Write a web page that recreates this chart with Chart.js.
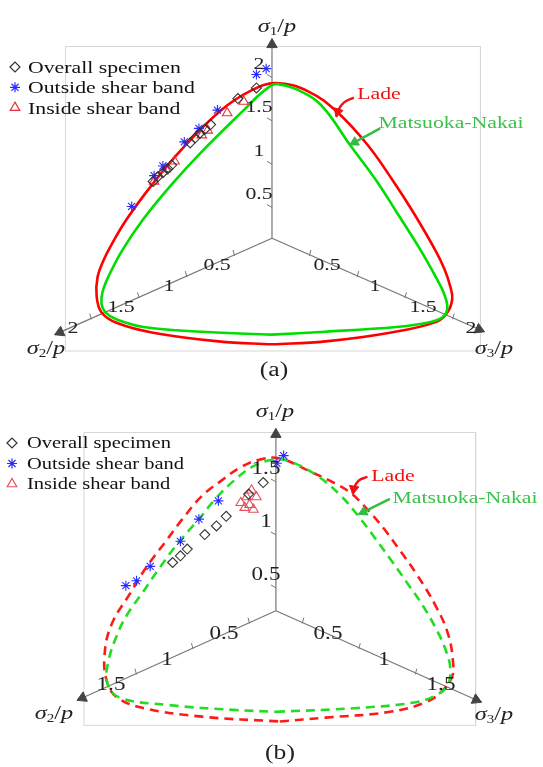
<!DOCTYPE html>
<html lang="en">
<head>
<meta charset="UTF-8">
<title>Lade and Matsuoka-Nakai criteria on the deviatoric plane</title>
<script src="https://cdn.jsdelivr.net/npm/chart.js"></script>
<style>
    body {
        margin: 0;
        background: #ffffff;
        font-family: "Liberation Serif", "Times New Roman", serif;
        overflow: hidden;
    }
    .panel {
        position: absolute;
        left: 0;
        width: 543px;
    }
    .panel canvas {
        position: absolute;
        left: 0;
        top: 0;
    }
    .lbl {
        position: absolute;
        white-space: nowrap;
        color: #222;
        line-height: 1;
        transform: translate(-50%, -50%) scaleX(1.28);
    }
    .leg {
        position: absolute;
        white-space: nowrap;
        color: #111;
        line-height: 1;
        transform-origin: 0 50%;
        transform: translate(0, -50%) scaleX(1.28);
    }
    .lbl sub {
        font-style: normal;
        font-size: 0.62em;
        vertical-align: -0.3em;
    }
</style>
</head>
<body>
<div class="panel" id="panelA" style="top:0;height:385px;"><canvas id="chartA" width="543" height="385"></canvas></div>
<div class="panel" id="panelB" style="top:385px;height:382px;"><canvas id="chartB" width="543" height="382"></canvas></div>

<script>
// plane coordinates: origin on the hydrostatic axis, 1 unit = 100 px of the figure, y up

// ---------- (a) ----------
const ladeA_x = [0, 0.55, 1.21, 1.68, 1.80, 1.85, 1.83, 1.77, 1.68, 1.45, 1.24, 0.98, 0.68, 0.38, 0.04, -0.22, -0.52, -0.92, -1.22, -1.49, -1.65, -1.73, -1.79, -1.80, -1.75, -1.59, -1.22, -0.55, 0];
const ladeA_y = [-1.10, -1.07, -0.98, -0.87, -0.77, -0.63, -0.50, -0.32, -0.13, 0.27, 0.60, 0.97, 1.30, 1.52, 1.61, 1.53, 1.33, 0.93, 0.57, 0.20, -0.07, -0.23, -0.40, -0.60, -0.77, -0.88, -0.98, -1.07, -1.10];
const mnA_x = [0, 0.55, 1.28, 1.58, 1.75, 1.80, 1.76, 1.68, 1.53, 1.28, 1.07, 0.80, 0.55, 0.38, 0.06, -0.07, -0.29, -0.72, -1.02, -1.32, -1.54, -1.68, -1.74, -1.75, -1.71, -1.60, -1.32, -0.72, 0];
const mnA_y = [-1.00, -0.97, -0.92, -0.88, -0.82, -0.72, -0.56, -0.40, -0.13, 0.27, 0.60, 0.97, 1.33, 1.48, 1.60, 1.54, 1.33, 0.90, 0.57, 0.20, -0.13, -0.40, -0.56, -0.68, -0.77, -0.84, -0.92, -0.97, -1.00];
const overallA_x = [-0.16, -0.35, -0.63, -0.69, -0.74, -0.79, -0.84, -1.03, -1.07, -1.12, -1.17, -1.22];
const overallA_y = [1.56, 1.45, 1.18, 1.13, 1.09, 1.04, 0.99, 0.76, 0.72, 0.68, 0.64, 0.59];
const outsideA_x = [-0.06, -0.16, -0.56, -0.75, -0.90, -1.12, -1.21, -1.44];
const outsideA_y = [1.76, 1.70, 1.33, 1.14, 1.00, 0.75, 0.65, 0.33];
const insideA_x = [-0.29, -0.46, -0.66, -0.72, -1.00, -1.09, -1.21];
const insideA_y = [1.42, 1.30, 1.12, 1.07, 0.80, 0.72, 0.59];
const ticksA1 = [0.5, 1, 1.5, 2];
const ticksA23 = [0.5, 1, 1.5, 2];

// ---------- (b) ----------
const ladeB_x = [0.04, 0.51, 1.17, 1.54, 1.71, 1.81, 1.82, 1.77, 1.64, 1.45, 1.27, 1.11, 0.94, 0.77, 0.61, 0.34, 0.04, -0.16, -0.36, -0.56, -0.76, -0.96, -1.13, -1.33, -1.49, -1.69, -1.76, -1.73, -1.63, -1.36, -0.76, 0.04];
const ladeB_y = [-1.15, -1.11, -1.05, -0.95, -0.83, -0.68, -0.55, -0.25, 0.05, 0.37, 0.63, 0.85, 1.05, 1.22, 1.32, 1.45, 1.58, 1.57, 1.49, 1.35, 1.19, 0.95, 0.72, 0.45, 0.19, -0.15, -0.48, -0.75, -0.90, -1.01, -1.10, -1.15];
const mnB_x = [0, 0.84, 1.44, 1.64, 1.76, 1.79, 1.74, 1.64, 1.51, 1.36, 1.20, 1.02, 0.84, 0.67, 0.44, 0.17, 0, -0.23, -0.43, -0.63, -0.79, -0.99, -1.19, -1.36, -1.52, -1.63, -1.72, -1.73, -1.61, -1.09, -0.43, 0];
const mnB_y = [-1.05, -1.01, -0.95, -0.88, -0.78, -0.60, -0.40, -0.18, 0.05, 0.27, 0.50, 0.75, 0.99, 1.19, 1.39, 1.54, 1.57, 1.50, 1.35, 1.15, 0.95, 0.72, 0.45, 0.20, -0.03, -0.25, -0.53, -0.75, -0.90, -0.98, -1.03, -1.05];
const overallB_x = [-1.06, -0.98, -0.91, -0.73, -0.61, -0.51, -0.28, -0.13];
const overallB_y = [0.50, 0.57, 0.64, 0.79, 0.88, 0.98, 1.21, 1.33];
const outsideB_x = [-1.54, -1.43, -1.29, -0.98, -0.79, -0.59, 0.01, 0.08];
const outsideB_y = [0.26, 0.31, 0.46, 0.72, 0.95, 1.14, 1.53, 1.61];
const insideB_x = [-0.36, -0.30, -0.27, -0.23, -0.20, -0.25, -0.32];
const insideB_y = [1.12, 1.18, 1.10, 1.05, 1.18, 1.25, 1.07];
const ticksB1 = [0.5, 1, 1.5];
const ticksB23 = [0.5, 1, 1.5];

const seriesNames = ['Overall specimen', 'Outside shear band', 'Inside shear band'];
const curveNames = ['Lade', 'Matsuoka-Nakai'];

// ---------- layout / look of each panel ----------
const panelA = {
    canvas: 'chartA', origin: [272, 240], w: 543, h: 385,
    u1: [0, 0.90], u2: [-0.98, -0.44], u3: [0.98, -0.44],
    tips: [[0, 2.07], [-2.23, -1.00], [2.18, -0.97]],
    tickShift1: -0.14, tickShift23: -0.10, labShift1: 0.02, labShift23: 0.08,
    labOff1: [-0.13, 0], labOff23: [0, -0.01], tickFont: 17,
    box: [-2.12, 1.99, 2.14, -1.17],
    t1: ticksA1, t23: ticksA23,
    lade: [ladeA_x, ladeA_y], mn: [mnA_x, mnA_y],
    overall: [overallA_x, overallA_y], outside: [outsideA_x, outsideA_y], inside: [insideA_x, insideA_y],
    dash: [], red: '#ff0000', green: '#00dd00', triColor: '#e8303a',
    names: [[0.05, 2.19], [-2.32, -1.15], [2.28, -1.15]], nameFont: 19,
    tag: ['(a)', 0.02, -1.36],
    ladeText: [1.10, 1.51], mnText: [1.84, 1.21], curveFont: 17,
    ladeArrow: [[0.84, 1.46], [0.74, 1.41], [0.68, 1.33], [0.66, 1.26]],
    mnArrow: [[1.11, 1.14], [0.80, 0.97]],
    legend: { mx: 15, tx: 28, y0: 67, dy: 20.3, font: 17 }
};
const panelB = {
    canvas: 'chartB', origin: [276, 227], w: 543, h: 382,
    u1: [0, 1.10], u2: [-1.16, -0.53], u3: [1.16, -0.53],
    tips: [[0, 1.89], [-2.04, -0.93], [2.11, -0.95]],
    tickShift1: -0.28, tickShift23: -0.26, labShift1: -0.15, labShift23: -0.04,
    labOff1: [-0.10, 0], labOff23: [0, 0.01], tickFont: 18,
    box: [-1.97, 1.85, 2.05, -1.19],
    t1: ticksB1, t23: ticksB23,
    lade: [ladeB_x, ladeB_y], mn: [mnB_x, mnB_y],
    overall: [overallB_x, overallB_y], outside: [outsideB_x, outsideB_y], inside: [insideB_x, insideB_y],
    dash: [9, 6], red: '#ff1a1a', green: '#22dd22', triColor: '#e5505c',
    names: [[-0.01, 2.06], [-2.28, -1.07], [2.24, -1.08]], nameFont: 19,
    tag: ['(b)', 0.04, -1.47],
    ladeText: [1.20, 1.41], mnText: [1.94, 1.18], curveFont: 17,
    ladeArrow: [[0.94, 1.39], [0.85, 1.35], [0.80, 1.27], [0.79, 1.21]],
    mnArrow: [[1.17, 1.16], [0.85, 1.00]],
    legend: { mx: 12, tx: 27, y0: 58, dy: 20.5, font: 16 }
};

const pts = (xs, ys) => xs.map((x, i) => ({ x: x, y: ys[i] }));
const along = (u, v, off) => ({ x: u[0] * v + (off ? off[0] : 0), y: u[1] * v + (off ? off[1] : 0) });
const angleOf = (dx, dy) => Math.atan2(dx, dy) * 180 / Math.PI;

// arrow head centre sits r px behind the tip
function head(tip, from, r) {
    const dx = tip[0] - from[0], dy = tip[1] - from[1];
    const len = Math.hypot(dx, dy);
    return { p: { x: tip[0] - dx / len * r / 100, y: tip[1] - dy / len * r / 100 }, rot: angleOf(dx, dy) };
}

const markerStyles = [
    { pointStyle: 'rectRot', radius: 5, color: '#333333', borderWidth: 1.1 },
    { pointStyle: 'star', radius: 5, color: '#2a2aff', borderWidth: 1.1 },
    { pointStyle: 'triangle', radius: 5.5, color: null, borderWidth: 1.1 }
];

// puts the html text on the panel and draws the legend markers
const overlayPlugin = {
    id: 'overlay',
    afterDraw(chart, args, opts) {
        const ctx = chart.ctx;
        const L = opts.legend;
        markerStyles.forEach((m, i) => {
            ctx.save();
            ctx.strokeStyle = m.color || opts.triColor;
            ctx.fillStyle = 'rgba(0,0,0,0)';
            ctx.lineWidth = 1.2;
            Chart.helpers.drawPoint(ctx, { pointStyle: m.pointStyle, radius: m.radius, rotation: 0, borderWidth: 1.2 },
                L.mx, L.y0 + i * L.dy);
            ctx.restore();
        });

        const wrap = chart.canvas.parentNode;
        if (wrap.dataset.done) return;
        wrap.dataset.done = '1';
        const sx = chart.scales.x, sy = chart.scales.y;
        opts.labels.forEach(l => {
            const d = document.createElement('div');
            d.className = 'lbl';
            d.innerHTML = l.html;
            d.style.left = sx.getPixelForValue(l.p.x) + 'px';
            d.style.top = sy.getPixelForValue(l.p.y) + 'px';
            d.style.fontSize = l.size + 'px';
            if (l.color) d.style.color = l.color;
            wrap.appendChild(d);
        });
        seriesNames.forEach((name, i) => {
            const d = document.createElement('div');
            d.className = 'leg';
            d.textContent = name;
            d.style.left = L.tx + 'px';
            d.style.top = (L.y0 + i * L.dy) + 'px';
            d.style.fontSize = L.font + 'px';
            wrap.appendChild(d);
        });
    }
};

function buildPanel(P) {
    const ds = [];
    const axisGrey = '#777777';

    // frame
    const b = P.box;
    ds.push({ data: [{x: b[0], y: b[1]}, {x: b[2], y: b[1]}, {x: b[2], y: b[3]}, {x: b[0], y: b[3]}, {x: b[0], y: b[1]}],
        showLine: true, borderColor: '#d6d6d6', borderWidth: 1, pointRadius: 0, order: 9 });

    // the three principal stress axes
    const heads = [], headRot = [];
    P.tips.forEach(t => {
        ds.push({ data: [{x: 0, y: 0}, {x: t[0], y: t[1]}], showLine: true, borderColor: axisGrey,
            borderWidth: 1.2, pointRadius: 0, order: 8 });
        const h = head(t, [0, 0], 6);
        heads.push(h.p); headRot.push(h.rot);
    });
    ds.push({ data: heads, showLine: false, pointStyle: 'triangle', pointRadius: 6, pointRotation: headRot,
        pointBackgroundColor: '#444444', pointBorderColor: '#444444', pointBorderWidth: 1, order: 7 });

    // tick marks
    const tk = [], tkRot = [];
    P.t1.forEach(v => { tk.push(along(P.u1, v + P.tickShift1, [-0.025, 0.01])); tkRot.push(30); });
    [P.u2, P.u3].forEach((u, k) => {
        P.t23.forEach(v => { tk.push(along(u, v + P.tickShift23, [0, 0.025])); tkRot.push(k === 0 ? 75 : 105); });
    });
    ds.push({ data: tk, showLine: false, pointStyle: 'line', pointRadius: 3, pointRotation: tkRot,
        pointBorderColor: axisGrey, pointBorderWidth: 1, order: 7 });

    // failure curves
    ds.push({ label: curveNames[0], data: pts(P.lade[0], P.lade[1]), showLine: true, tension: 0.4,
        borderColor: P.red, borderWidth: 2.6, borderDash: P.dash, pointRadius: 0, order: 3 });
    ds.push({ label: curveNames[1], data: pts(P.mn[0], P.mn[1]), showLine: true, tension: 0.4,
        borderColor: P.green, borderWidth: 2.6, borderDash: P.dash, pointRadius: 0, order: 2 });

    // measured points
    [P.overall, P.outside, P.inside].forEach((s, i) => {
        const m = markerStyles[i];
        const col = m.color || P.triColor;
        ds.push({ label: seriesNames[i], data: pts(s[0], s[1]), showLine: false, pointStyle: m.pointStyle,
            pointRadius: m.radius, pointBorderColor: col, pointBackgroundColor: 'rgba(0,0,0,0)',
            pointBorderWidth: m.borderWidth, order: 0 });
    });

    // annotation arrows
    [[P.ladeArrow, '#ee1111'], [P.mnArrow, '#33bb44']].forEach(a => {
        const path = a[0];
        const n = path.length;
        ds.push({ data: path.map(p => ({x: p[0], y: p[1]})), showLine: true, tension: 0.4,
            borderColor: a[1], borderWidth: 2.4, pointRadius: 0, order: 1 });
        const h = head(path[n - 1], path[n - 2], 5.5);
        ds.push({ data: [h.p], showLine: false, pointStyle: 'triangle', pointRadius: 5.5, pointRotation: h.rot,
            pointBackgroundColor: a[1], pointBorderColor: a[1], pointBorderWidth: 1, order: 1 });
    });

    // text placed over the canvas
    const labels = [];
    P.t1.forEach(v => labels.push({ html: String(v), p: along(P.u1, v + P.labShift1, P.labOff1), size: P.tickFont }));
    [P.u2, P.u3].forEach(u => P.t23.forEach(v =>
        labels.push({ html: String(v), p: along(u, v + P.labShift23, P.labOff23), size: P.tickFont })));
    ['1', '2', '3'].forEach((k, i) => labels.push({
        html: '<i>&sigma;</i><sub>' + k + '</sub>/<i>p</i>', p: { x: P.names[i][0], y: P.names[i][1] }, size: P.nameFont }));
    labels.push({ html: P.tag[0], p: { x: P.tag[1], y: P.tag[2] }, size: 20 });
    labels.push({ html: curveNames[0], p: { x: P.ladeText[0], y: P.ladeText[1] }, size: P.curveFont, color: '#ee1111' });
    labels.push({ html: curveNames[1], p: { x: P.mnText[0], y: P.mnText[1] }, size: P.curveFont, color: '#3cc04c' });

    const o = P.origin;
    new Chart(document.getElementById(P.canvas), {
        type: 'scatter',
        data: { datasets: ds },
        options: {
            responsive: false,
            animation: false,
            layout: { padding: 0 },
            clip: false,
            scales: {
                x: { type: 'linear', display: false, min: -o[0] / 100, max: (P.w - o[0]) / 100 },
                y: { type: 'linear', display: false, min: -(P.h - o[1]) / 100, max: o[1] / 100 }
            },
            plugins: {
                legend: { display: false },
                tooltip: { enabled: false },
                overlay: { labels: labels, legend: P.legend, triColor: P.triColor }
            }
        },
        plugins: [overlayPlugin]
    });
}

buildPanel(panelA);
buildPanel(panelB);
</script>
</body>
</html>
